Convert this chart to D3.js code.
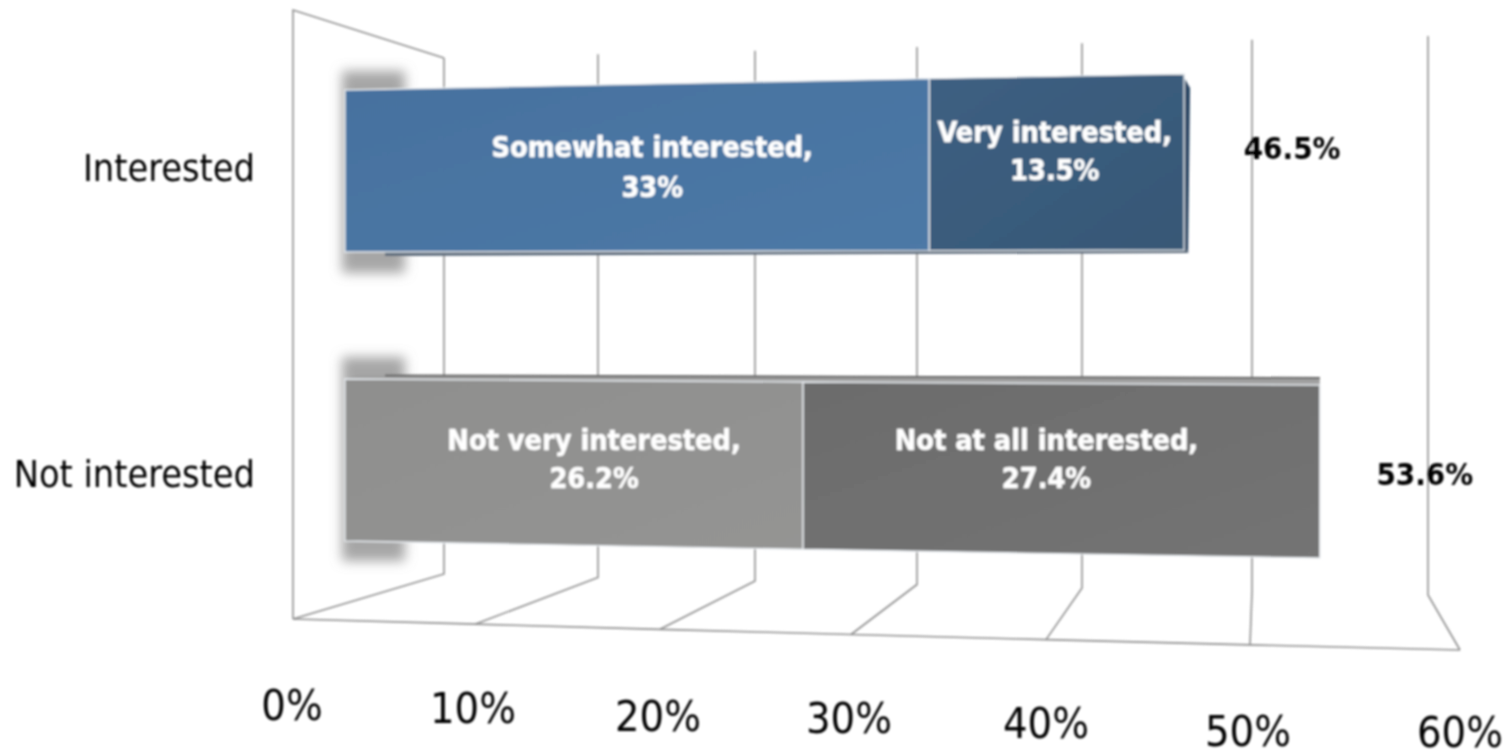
<!DOCTYPE html>
<html>
<head>
<meta charset="utf-8">
<script src="https://cdn.jsdelivr.net/npm/d3@7"></script>
<style>
  html, body { margin: 0; padding: 0; background: #fff; }
  svg { display: block; }
  text { font-family: "DejaVu Sans Condensed", "DejaVu Sans", sans-serif; }
</style>
</head>
<body>
<svg id="chart" width="1512" height="752"></svg>
<script>
// data
const categories = ["Interested", "Not interested"];
const interestedLabels = ["Somewhat interested,", "Very interested,"];
const interestedValues = [33, 13.5];
const notInterestedLabels = ["Not very interested,", "Not at all interested,"];
const notInterestedValues = [26.2, 27.4];
const valueLabels = [["33%", "13.5%"], ["26.2%", "27.4%"]];
const totals = [46.5, 53.6];
const totalLabels = ["46.5%", "53.6%"];
const tickValues = [0, 10, 20, 30, 40, 50, 60];
const tickLabels = ["0%", "10%", "20%", "30%", "40%", "50%", "60%"];

const svg = d3.select("#chart");
const defs = svg.append("defs");

defs.append("filter").attr("id", "soft")
  .attr("filterUnits", "userSpaceOnUse")
  .attr("x", 0).attr("y", 0).attr("width", 1512).attr("height", 752)
  .append("feGaussianBlur").attr("stdDeviation", 0.85);
defs.append("filter").attr("id", "shadow")
  .attr("x", "-40%").attr("y", "-30%").attr("width", "180%").attr("height", "160%")
  .append("feGaussianBlur").attr("stdDeviation", 6);

function gradient(id, from, to) {
  const g = defs.append("linearGradient").attr("id", id)
    .attr("x1", "0%").attr("y1", "0%").attr("x2", "100%").attr("y2", "100%");
  g.append("stop").attr("offset", "0%").attr("stop-color", from);
  g.append("stop").attr("offset", "100%").attr("stop-color", to);
}
gradient("seg0", "#46719f", "#4d79a6");
gradient("seg1", "#3d5f82", "#375876");
gradient("seg2", "#8f8f8e", "#949493");
gradient("seg3", "#6c6c6c", "#747474");

const root = svg.append("g").attr("filter", "url(#soft)");

// walls, the chart is a tilted 3d box so each edge has its own scale
const backX = d3.scaleLinear().domain(tickValues).range([444, 598, 755, 917, 1082, 1252, 1428]);
const frontX = d3.scaleLinear().domain(tickValues).range([293, 475, 660, 851, 1046, 1250, 1460]);
const backTop = d3.scaleLinear().domain([0, 60]).range([58, 36]);
const backBottom = d3.scaleLinear().domain([0, 60]).range([574, 595]);
const frontY = d3.scaleLinear().domain([0, 60]).range([619, 650]);
const labelX = d3.scaleLinear().domain(tickValues).range([292, 473, 658, 849, 1046, 1248, 1460]);
const labelY = d3.scaleLinear().domain(tickValues).range([705, 708, 716, 718, 723, 731, 732]);

const walls = root.append("g").attr("fill", "none").attr("stroke", "#8f8f8f").attr("stroke-width", 1.6);

walls.selectAll("path.grid")
  .data(tickValues)
  .enter()
  .append("path")
  .attr("class", "grid")
  .attr("d", (d) => `M${backX(d)},${backTop(d)}L${backX(d)},${backBottom(d)}L${frontX(d)},${frontY(d)}`);

walls.append("path")
  .attr("d", `M${backX(0)},${backTop(0)}L${frontX(0)},10L${frontX(0)},${frontY(0)}`);
walls.append("path")
  .attr("d", d3.line()(tickValues.map((d) => [frontX(d), frontY(d)])));

// bars
const barX = d3.scalePow().exponent(1.055).domain([0, 60]).range([345, 1443]);
const barTop = [
  d3.scaleLinear().domain([0, 46.5]).range([90, 74]),
  d3.scaleLinear().domain([0, 53.6]).range([379, 385]),
];
const barBottom = [
  d3.scaleLinear().domain([0, 46.5]).range([252, 250]),
  d3.scaleLinear().domain([0, 53.6]).range([541, 558]),
];

const rows = [
  { labels: interestedLabels, values: interestedValues },
  { labels: notInterestedLabels, values: notInterestedValues },
];
rows.forEach((r, i) => {
  let sum = 0;
  r.segments = r.values.map((v, j) => {
    const s = { start: sum, end: sum + v, label: r.labels[j], value: valueLabels[i][j], fill: `url(#seg${i * 2 + j})` };
    sum += v;
    return s;
  });
  r.end = totals[i];
});

// grey shadow stubs behind the bar starts
const shadows = root.append("g");
shadows.selectAll("rect")
  .data([[71, 273], [357, 561]])
  .enter()
  .append("rect")
  .attr("x", barX(0) - 3)
  .attr("y", (d) => d[0])
  .attr("width", 63)
  .attr("height", (d) => d[1] - d[0])
  .attr("fill", "#a6a6a6")
  .attr("filter", "url(#shadow)");

const bars = root.append("g");

// top bar, right side and underside
const endTop = barX(totals[0]);
bars.append("path")
  .attr("d", `M${endTop - 2},${barTop[0](46.5)}L${endTop + 6},${barTop[0](46.5) + 14}L${endTop + 4},${barBottom[0](46.5) + 3}L${endTop - 2},${barBottom[0](46.5)}Z`)
  .attr("fill", "#2f4a66");
bars.append("path")
  .attr("d", `M${barX(0) + 40},${barBottom[0](0)}L${endTop + 4},${barBottom[0](46.5)}L${endTop + 4},${barBottom[0](46.5) + 3}L${barX(0) + 40},${barBottom[0](0) + 4}Z`)
  .attr("fill", "#5d6c7c");

// bottom bar, top side
bars.append("path")
  .attr("d", `M${barX(0)},${barTop[1](0)}L${barX(0) + 15},375L${barX(53.6)},377L${barX(53.6)},${barTop[1](53.6)}Z`)
  .attr("fill", "#a0a0a0");
bars.append("path")
  .attr("d", `M${barX(0) + 40},375.5L${barX(53.6)},378`)
  .attr("stroke", "#666").attr("stroke-width", 2).attr("fill", "none");

rows.forEach((r, i) => {
  bars.append("g")
    .selectAll("path")
    .data(r.segments)
    .enter()
    .append("path")
    .attr("d", (d) => `M${barX(d.start)},${barTop[i](d.start)}L${barX(d.end)},${barTop[i](d.end)}L${barX(d.end)},${barBottom[i](d.end)}L${barX(d.start)},${barBottom[i](d.start)}Z`)
    .attr("fill", (d) => d.fill)
    .attr("stroke", "#e4e8ec")
    .attr("stroke-width", 1.4);
});

// text
const segmentNudge = [[15, -2], [20, -15]];
const textRows = [
  [[147, 187], [132, 170]],
  [[440, 478], [440, 478]],
];
const labels = root.append("g").attr("text-anchor", "middle").attr("font-weight", "bold");
rows.forEach((r, i) => {
  r.segments.forEach((s, j) => {
    const cx = (barX(s.start) + barX(s.end)) / 2 + segmentNudge[i][j];
    labels.append("text").attr("x", cx).attr("y", textRows[i][j][0])
      .attr("dy", "0.36em").attr("fill", "#fff").attr("stroke", "#fff").attr("stroke-width", 0.5)
      .attr("font-size", 28.6).text(s.label);
    labels.append("text").attr("x", cx).attr("y", textRows[i][j][1])
      .attr("dy", "0.36em").attr("fill", "#fff").attr("stroke", "#fff").attr("stroke-width", 0.5)
      .attr("font-size", 28.6).text(s.value);
  });
});

labels.selectAll("text.total")
  .data(totals)
  .enter()
  .append("text")
  .attr("class", "total")
  .attr("x", (d, i) => barX(d) + [108, 105][i])
  .attr("y", (d, i) => [148, 474][i])
  .attr("dy", "0.36em")
  .attr("fill", "#000")
  .attr("font-size", 31)
  .text((d, i) => totalLabels[i]);

root.append("g")
  .attr("text-anchor", "end")
  .selectAll("text")
  .data(categories)
  .enter()
  .append("text")
  .attr("x", 255)
  .attr("y", (d, i) => [167, 473][i])
  .attr("dy", "0.36em")
  .attr("fill", "#000")
  .attr("font-size", 37.5)
  .text((d) => d);

root.append("g")
  .attr("text-anchor", "middle")
  .selectAll("text")
  .data(tickValues)
  .enter()
  .append("text")
  .attr("x", (d) => labelX(d))
  .attr("y", (d) => labelY(d))
  .attr("dy", "0.36em")
  .attr("fill", "#000")
  .attr("font-size", 43)
  .text((d, i) => tickLabels[i]);
</script>
</body>
</html>
